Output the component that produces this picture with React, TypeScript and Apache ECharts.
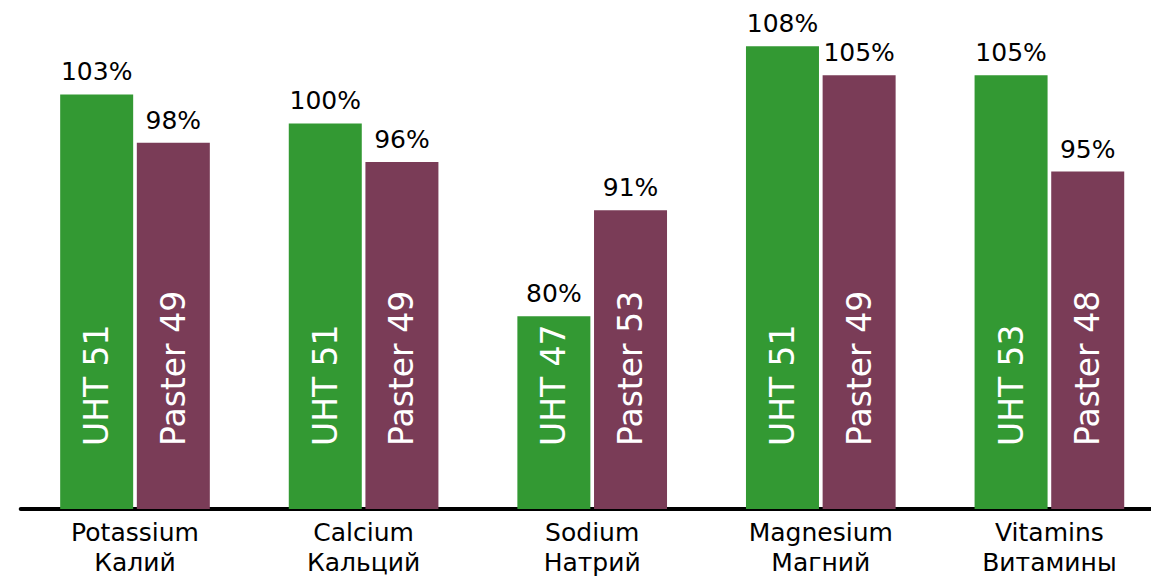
import React, { useEffect, useRef } from "react";
import * as echarts from "echarts";

const categories = ["Potassium\nКалий", "Calcium\nКальций", "Sodium\nНатрий", "Magnesium\nМагний", "Vitamins\nВитамины"];
const uhtValues = [103, 100, 80, 108, 105];
const pasterValues = [98, 96, 91, 105, 95];
const uhtCounts = [51, 51, 47, 51, 53];
const pasterCounts = [49, 49, 53, 49, 48];

const GREEN = "#339933";
const MAROON = "#7a3c57";
const FONT = "DejaVu Sans";

export default function App() {
  const ref = useRef<HTMLDivElement>(null);
  useEffect(() => {
    if (!ref.current) return;
    const chart = echarts.init(ref.current, null, { renderer: "svg" });
    const topLabel = {
      show: true,
      position: "top",
      distance: 10,
      fontFamily: FONT,
      fontSize: 25,
      color: "#000",
      formatter: (p: any) => p.value + "%",
    };
    const insideLabel = (name: string, counts: number[]) => ({
      show: true,
      position: "insideBottom",
      distance: 63,
      rotate: 90,
      align: "left",
      verticalAlign: "middle",
      fontFamily: FONT,
      fontSize: 33,
      color: "#fff",
      formatter: (p: any) => name + " " + counts[p.dataIndex],
    });
    const yAxisBase = { type: "value", min: 60, max: 110, show: false, splitLine: { show: false } };
    chart.setOption({
      animation: false,
      grid: { left: 20.7, width: 1143, top: 27, bottom: 67, containLabel: false },
      xAxis: [
        {
          type: "category",
          data: categories,
          axisLine: { show: true, lineStyle: { color: "#000", width: 4 } },
          axisTick: { show: false },
          axisLabel: { fontFamily: FONT, fontSize: 25, lineHeight: 30, color: "#000", margin: 8, interval: 0 },
        },
        { type: "category", data: categories, show: false },
      ],
      yAxis: [yAxisBase, { ...yAxisBase }],
      series: [
        {
          type: "bar",
          name: "UHT",
          data: uhtValues,
          barWidth: 73,
          barGap: "5%",
          itemStyle: { color: GREEN },
          label: topLabel,
        },
        {
          type: "bar",
          name: "Paster",
          data: pasterValues,
          barWidth: 73,
          barGap: "5%",
          itemStyle: { color: MAROON },
          label: topLabel,
        },
        {
          type: "bar",
          name: "UHT count",
          data: uhtValues,
          xAxisIndex: 1,
          yAxisIndex: 1,
          barWidth: 73,
          barGap: "5%",
          itemStyle: { color: "transparent" },
          label: insideLabel("UHT", uhtCounts),
          z: 5,
        },
        {
          type: "bar",
          name: "Paster count",
          data: pasterValues,
          xAxisIndex: 1,
          yAxisIndex: 1,
          barWidth: 73,
          barGap: "5%",
          itemStyle: { color: "transparent" },
          label: insideLabel("Paster", pasterCounts),
          z: 5,
        },
      ],
    });
    return () => chart.dispose();
  }, []);
  return (
    <div
      style={{ position: "absolute", left: 0, top: 0, width: 1151, height: 577, overflow: "hidden", background: "#fff" }}
    >
      <div ref={ref} style={{ width: 1175, height: 577 }} />
    </div>
  );
}
